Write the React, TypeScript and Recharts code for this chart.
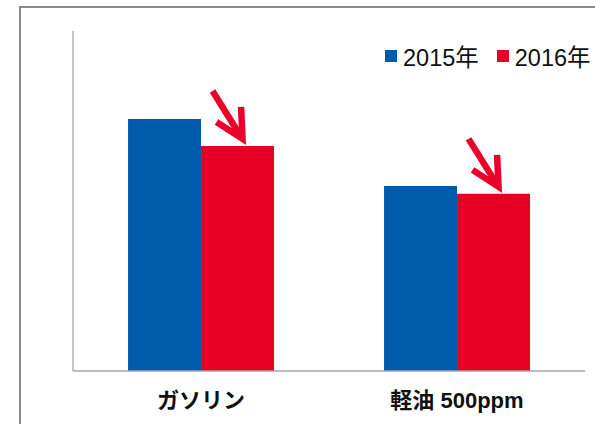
import React from 'react';
import { BarChart, Bar, XAxis, YAxis, Legend, LabelList } from 'recharts';

const categories = ['ガソリン', '軽油 500ppm'];
const values2015 = [74.1, 54.4];
const values2016 = [66.2, 52.1];
const seriesNames = ['2015年', '2016年'];
const seriesColors = ['#005bac', '#e60023'];

const data = categories.map((c, i) => ({
  name: c,
  y2015: values2015[i],
  y2016: values2016[i],
}));

const FONT = '"Liberation Sans", Arial, "Noto Sans CJK JP", sans-serif';

const Arrow = (props: any) => {
  const { x, y, width } = props;
  if (x == null || y == null) return null;
  const cx = Number(x) + Number(width) / 2;
  const top = Number(y);
  const color = '#ea0029';
  return (
    <g>
      <line
        x1={cx - 25}
        y1={top - 55}
        x2={cx + 3}
        y2={top - 10}
        stroke={color}
        strokeWidth={6.5}
        strokeLinecap="butt"
      />
      <polyline
        points={`${cx + 3.5},${top - 39} ${cx + 5},${top - 7} ${cx - 21},${top - 24}`}
        fill="none"
        stroke={color}
        strokeWidth={6.5}
        strokeLinecap="butt"
        strokeLinejoin="miter"
        strokeMiterlimit={3}
      />
    </g>
  );
};

const LegendContent = () => (
  <div style={{ display: 'flex', alignItems: 'center', fontFamily: FONT, fontSize: 23.5, color: '#111', whiteSpace: 'nowrap' }}>
    {seriesNames.map((n, i) => (
      <div key={n} style={{ display: 'flex', alignItems: 'center', marginRight: i === 0 ? 18 : 0 }}>
        <div style={{ width: 12, height: 12, background: seriesColors[i], marginRight: 6 }} />
        <span>{n}</span>
      </div>
    ))}
  </div>
);

export default function App() {
  return (
    <div style={{ position: 'absolute', left: 0, top: 0, width: 595, height: 424, overflow: 'hidden', background: '#fff' }}>
      <div
        style={{
          position: 'absolute',
          left: 19,
          top: 6,
          width: 620,
          height: 500,
          border: '2px solid #8a8a8a',
          boxSizing: 'border-box',
        }}
      />
      <div style={{ position: 'absolute', left: 0, top: 0 }}>
        <BarChart
          width={595}
          height={424}
          data={data}
          margin={{ top: 31, right: 10, bottom: 23, left: 13 }}
          barCategoryGap="21.5%"
          barGap={0}
        >
          <XAxis
            dataKey="name"
            height={30}
            axisLine={{ stroke: '#a6a6a6', strokeWidth: 1.5 }}
            tickLine={false}
            tickMargin={15}
            tick={{ fill: '#111', fontSize: 22, fontWeight: 'bold', fontFamily: FONT }}
          />
          <YAxis
            width={60}
            domain={[0, 100]}
            tick={false}
            tickLine={false}
            axisLine={{ stroke: '#b0b0b0', strokeWidth: 1.5 }}
          />
          <Legend
            layout="horizontal"
            verticalAlign="middle"
            align="center"
            content={<LegendContent />}
            wrapperStyle={{ position: 'absolute', left: 385, top: 39, width: 220, height: 30 }}
          />
          <Bar dataKey="y2015" name={seriesNames[0]} fill={seriesColors[0]} isAnimationActive={false} />
          <Bar dataKey="y2016" name={seriesNames[1]} fill={seriesColors[1]} isAnimationActive={false}>
            <LabelList dataKey="y2016" content={<Arrow />} />
          </Bar>
        </BarChart>
      </div>
    </div>
  );
}
